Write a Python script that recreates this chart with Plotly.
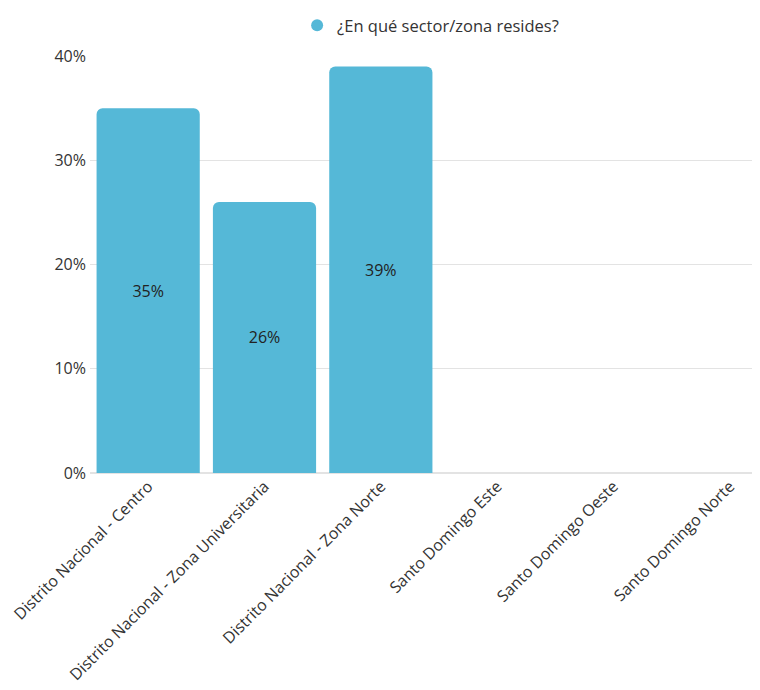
import plotly.graph_objects as go

categories = [
    "Distrito Nacional - Centro",
    "Distrito Nacional - Zona Universitaria",
    "Distrito Nacional - Zona Norte",
    "Santo Domingo Este",
    "Santo Domingo Oeste",
    "Santo Domingo Norte",
]
values = [35, 26, 39, 0, 0, 0]
series_name = "¿En qué sector/zona resides?"
bar_color = "#55B8D7"

labels = [f"{v}%" if v else "" for v in values]

fig = go.Figure()
fig.add_trace(go.Bar(
    x=categories, y=values, text=labels,
    textposition="inside", insidetextanchor="middle",
    textfont=dict(color="#222222", size=16),
    marker=dict(color=bar_color, cornerradius=6, line=dict(width=0)),
    showlegend=False, hoverinfo="x+y",
))
fig.add_trace(go.Scatter(
    x=[None], y=[None], mode="markers", name=series_name,
    marker=dict(color=bar_color, size=17, symbol="circle"),
))

fig.update_layout(
    width=780, height=682,
    margin=dict(l=82, r=0, t=47, b=217),
    plot_bgcolor="white", paper_bgcolor="white",
    font=dict(family="Open Sans", size=16, color="#333333"),
    bargap=0.113,
    showlegend=True,
    legend=dict(orientation="h", x=0.488, xanchor="center", y=1.074, yanchor="middle",
                font=dict(size=16.5, color="#333333"), itemsizing="constant"),
    xaxis=dict(tickangle=-45, showgrid=False, ticks="", showline=False, automargin=False,
               tickfont=dict(size=16, color="#333333")),
    yaxis=dict(range=[0, 40], dtick=10, ticksuffix="%", showgrid=True, automargin=False,
               gridcolor="#e3e3e3", zeroline=True, zerolinecolor="#e3e3e3",
               ticks="", ticklabelstandoff=3, tickfont=dict(size=16, color="#333333")),
)
fig.write_html("out.html")
